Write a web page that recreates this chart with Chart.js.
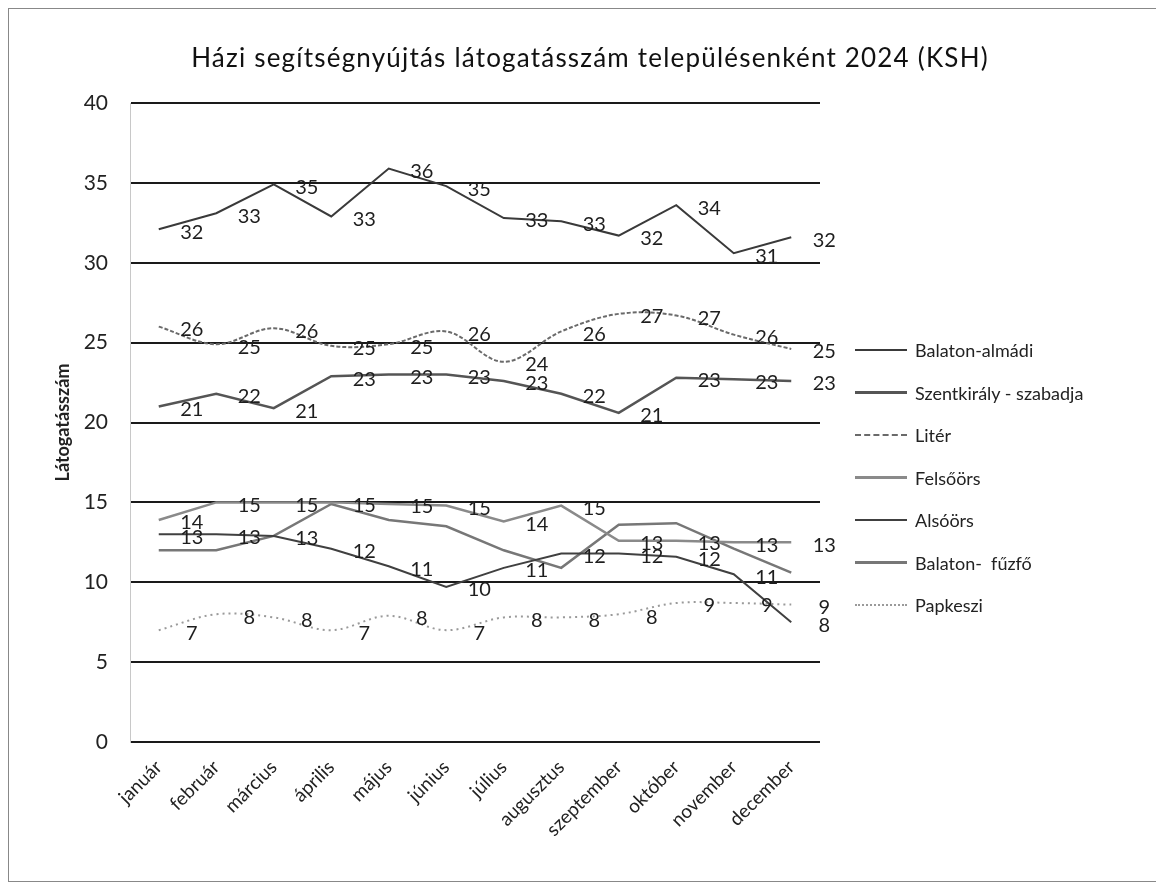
<!DOCTYPE html>
<html>
<head>
<meta charset="utf-8">
<script src="https://cdn.jsdelivr.net/npm/chart.js@4.4.1/dist/chart.umd.min.js"></script>
<style>
  body { margin:0; background:#fff; font-family:Lato, 'Open Sans', sans-serif; }
  #wrap { position:relative; width:1156px; height:887px; overflow:hidden; }
  #frame { position:absolute; left:8px; top:8px; width:1160px; height:872px; border:1px solid #888; border-right:none; }
  #title { position:absolute; left:0; width:1180px; top:41px; text-align:center; font-size:26px; letter-spacing:1.2px; color:#111; }
  #legend { position:absolute; left:855px; top:329px; }
  .lg { display:flex; align-items:center; height:42.5px; }
  .lg .s { width:52px; height:0; margin-right:8px; }
  .lg .t { font-size:18px; color:#222; white-space:pre; }
  canvas { position:absolute; left:0; top:0; }
</style>
</head>
<body>
<div id="wrap">
  <div id="frame"></div>
  <canvas id="chart" width="1156" height="887"></canvas>
  <div id="title">Házi segítségnyújtás látogatásszám településenként 2024 (KSH)</div>
  <div id="legend"></div>
</div>
<script>
/* ── data ── */
const months = ['január','február','március','április','május','június',
                'július','augusztus','szeptember','október','november','december'];

const seriesNames = ['Balaton-almádi','Szentkirály - szabadja','Litér','Felsőörs',
                     'Alsóörs','Balaton-  fűzfő','Papkeszi'];

const balatonAlmadi = [32.1, 33.1, 34.9, 32.9, 35.9, 34.8, 32.8, 32.6, 31.7, 33.6, 30.6, 31.6];
const szentkiraly   = [21.0, 21.8, 20.9, 22.9, 23.0, 23.0, 22.6, 21.8, 20.6, 22.8, 22.7, 22.6];
const liter         = [26.0, 24.9, 25.9, 24.8, 24.9, 25.7, 23.8, 25.7, 26.8, 26.7, 25.5, 24.6];
const felsoors      = [13.9, 15.0, 15.0, 15.0, 14.9, 14.8, 13.8, 14.8, 12.6, 12.6, 12.5, 12.5];
const alsoors       = [13.0, 13.0, 12.9, 12.1, 11.0,  9.7, 10.9, 11.8, 11.8, 11.6, 10.5,  7.5];
const balatonFuzfo  = [12.0, 12.0, 12.9, 14.9, 13.9, 13.5, 12.0, 10.9, 13.6, 13.7, 12.1, 10.6];
const papkeszi      = [ 7.0,  8.0,  7.8,  7.0,  7.9,  7.0,  7.8,  7.8,  8.0,  8.7,  8.7,  8.6];

const yTicks = { min: 0, max: 40, step: 5 };

/* ── line looks (grayscale, like the scan) ── */
const styles = [
  { color:'#3a3a3a', width:2,   dash:[],    tension:0,    labels:true  },
  { color:'#555555', width:2.5, dash:[],    tension:0,    labels:true  },
  { color:'#6a6a6a', width:2,   dash:[4,2], tension:0.35, labels:true  },
  { color:'#8a8a8a', width:2.5, dash:[],    tension:0,    labels:true  },
  { color:'#404040', width:2,   dash:[],    tension:0,    labels:true  },
  { color:'#777777', width:2.5, dash:[],    tension:0,    labels:false },
  { color:'#9a9a9a', width:2,   dash:[2,4], tension:0.35, labels:true  },
];

const values = [balatonAlmadi, szentkiraly, liter, felsoors, alsoors, balatonFuzfo, papkeszi];

// value labels to the right of every point (Excel "right" position)
const valueLabels = {
  id: 'valueLabels',
  afterDatasetsDraw(chart) {
    const ctx = chart.ctx;
    ctx.save();
    ctx.font = '20px Lato';
    ctx.fillStyle = '#1e1e1e';
    ctx.textAlign = 'center';
    ctx.textBaseline = 'middle';
    chart.data.datasets.forEach((ds, i) => {
      if (!ds.showValues) return;
      chart.getDatasetMeta(i).data.forEach((pt, j) => {
        ctx.fillText(String(Math.round(ds.data[j])), pt.x + 33, pt.y + 3);
      });
    });
    ctx.restore();
  }
};

const chart = new Chart(document.getElementById('chart'), {
  type: 'line',
  data: {
    labels: months,
    datasets: seriesNames.map((name, i) => ({
      label: name,
      data: values[i],
      borderColor: styles[i].color,
      borderWidth: styles[i].width,
      borderDash: styles[i].dash,
      tension: styles[i].tension,
      pointRadius: 0,
      fill: false,
      showValues: styles[i].labels,
    })),
  },
  options: {
    responsive: false,
    animation: false,
    layout: { padding: { top: 103, right: 336, bottom: 0, left: 0 } },
    plugins: {
      legend:  { display: false },
      title:   { display: false },
      tooltip: { enabled: false },
    },
    scales: {
      x: {
        offset: true,
        grid: { display: false },
        border: { display: false },
        ticks: { color: '#222', font: { family: 'Lato', size: 19 }, minRotation: 45, maxRotation: 45, padding: 6 },
        afterFit: s => { s.height = 145; },
      },
      y: {
        min: yTicks.min,
        max: yTicks.max,
        ticks: { stepSize: yTicks.step, color: '#222', font: { family: 'Lato', size: 21 }, padding: 22 },
        grid: { color: '#1a1a1a', lineWidth: 2, drawTicks: false },
        border: { display: true, color: '#c8c8c8', width: 1 },
        title: { display: true, text: 'Látogatásszám', color: '#222',
                 font: { family: 'Lato', size: 18, weight: 'bold' }, padding: { top: 52, bottom: 0 } },
        afterFit: s => { s.width = 130; },
      },
    },
  },
  plugins: [valueLabels],
});

/* ── legend as html, built from the datasets ── */
const legend = document.getElementById('legend');
chart.data.datasets.forEach(ds => {
  const row = document.createElement('div');
  row.className = 'lg';
  const kind = ds.borderDash.length ? (ds.borderDash[0] <= 2 ? 'dotted' : 'dashed') : 'solid';
  row.innerHTML = `<span class="s" style="border-top:${Math.round(ds.borderWidth)}px ${kind} ${ds.borderColor}"></span>` +
                  `<span class="t">${ds.label}</span>`;
  legend.appendChild(row);
});
</script>
</body>
</html>
